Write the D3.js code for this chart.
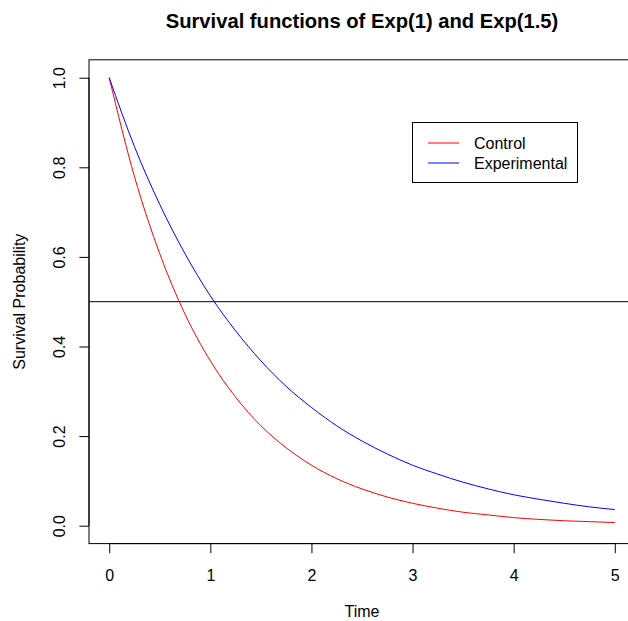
<!DOCTYPE html>
<html>
<head>
<meta charset="utf-8">
<script src="https://cdn.jsdelivr.net/npm/d3@7"></script>
<style>
  html, body { margin: 0; padding: 0; background: #fff; }
  svg { display: block; font-family: "Liberation Sans", Arial, sans-serif; }
</style>
</head>
<body>
<svg id="chart" width="628" height="621"></svg>
<script>
const times = [0, 0.25, 0.5, 0.75, 1, 1.25, 1.5, 1.75, 2, 2.25, 2.5, 2.75, 3, 3.25, 3.5, 3.75, 4, 4.25, 4.5, 4.75, 5];
const control = [1, 0.779, 0.607, 0.472, 0.368, 0.287, 0.223, 0.174, 0.135, 0.105, 0.082, 0.064, 0.050, 0.039, 0.030, 0.024, 0.018, 0.014, 0.011, 0.009, 0.007];
const experimental = [1, 0.846, 0.717, 0.607, 0.513, 0.435, 0.368, 0.311, 0.264, 0.223, 0.189, 0.160, 0.135, 0.115, 0.097, 0.082, 0.069, 0.059, 0.050, 0.042, 0.036];
const xTicks = [0, 1, 2, 3, 4, 5];
const yTicks = [0, 0.2, 0.4, 0.6, 0.8, 1.0];
const refLine = 0.5;
const legendLabels = ["Control", "Experimental"];
const colors = ["#ff0000", "#0000ff"];

const svg = d3.select("#chart");
const x = d3.scaleLinear().domain([-0.2, 5.2]).range([89, 635]);
const y = d3.scaleLinear().domain([-0.04, 1.04]).range([543.6, 59.8]);

// frame
svg.append("rect")
  .attr("x", x.range()[0]).attr("y", y.range()[1])
  .attr("width", x.range()[1] - x.range()[0])
  .attr("height", y.range()[0] - y.range()[1])
  .attr("fill", "none").attr("stroke", "#000").attr("stroke-width", 1);

// x axis
const xa = svg.append("g").attr("transform", `translate(0,${y.range()[0]})`)
  .call(d3.axisBottom(x).tickValues(xTicks).tickFormat(d3.format("d")).tickSize(9.6).tickSizeOuter(0));
xa.select(".domain").attr("d", `M${x(0)},0H${x(5)}`);
xa.selectAll("text").attr("font-size", 16).attr("font-family", "Liberation Sans, Arial").attr("dy", null).attr("y", 37.4).attr("fill", "#000");

// y axis
const ya = svg.append("g").attr("transform", `translate(${x.range()[0]},0)`)
  .call(d3.axisLeft(y).tickValues(yTicks).tickFormat(d3.format(".1f")).tickSize(9.6).tickSizeOuter(0));
ya.select(".domain").attr("d", `M0,${y(0)}V${y(1)}`);
ya.selectAll(".tick text")
  .attr("font-size", 16).attr("font-family", "Liberation Sans, Arial")
  .attr("x", null).attr("dy", null).attr("fill", "#000")
  .attr("text-anchor", "middle")
  .attr("transform", "translate(-24,0) rotate(-90)");

// reference line
svg.append("line")
  .attr("x1", x.range()[0]).attr("x2", 628)
  .attr("y1", y(refLine)).attr("y2", y(refLine))
  .attr("stroke", "#000").attr("stroke-width", 1);

// curves
const line = d3.line().x((d, i) => x(times[i])).y(d => y(d)).curve(d3.curveMonotoneX);
[control, experimental].forEach((s, k) => {
  svg.append("path").attr("d", line(s)).attr("fill", "none")
    .attr("stroke", colors[k]).attr("stroke-width", 1);
});

// title
svg.append("text").attr("x", (x.range()[0] + x.range()[1]) / 2).attr("y", 28)
  .attr("text-anchor", "middle").attr("font-weight", "bold").attr("font-size", 20.2)
  .text("Survival functions of Exp(1) and Exp(1.5)");

// axis labels
svg.append("text").attr("x", (x.range()[0] + x.range()[1]) / 2).attr("y", 617)
  .attr("text-anchor", "middle").attr("font-size", 16).text("Time");
svg.append("text")
  .attr("transform", `translate(25,${(y.range()[0] + y.range()[1]) / 2}) rotate(-90)`)
  .attr("text-anchor", "middle").attr("font-size", 16).text("Survival Probability");

// legend
const lg = svg.append("g");
lg.append("rect").attr("x", 412.5).attr("y", 122.5).attr("width", 165).attr("height", 60)
  .attr("fill", "#fff").attr("stroke", "#000").attr("stroke-width", 1);
legendLabels.forEach((lab, i) => {
  const ly = 143 + i * 20;
  lg.append("line").attr("x1", 428).attr("x2", 459).attr("y1", ly).attr("y2", ly)
    .attr("stroke", colors[i]).attr("stroke-width", 1);
  lg.append("text").attr("x", 474).attr("y", ly + 5.8).attr("font-size", 16).text(lab);
});
</script>
</body>
</html>
